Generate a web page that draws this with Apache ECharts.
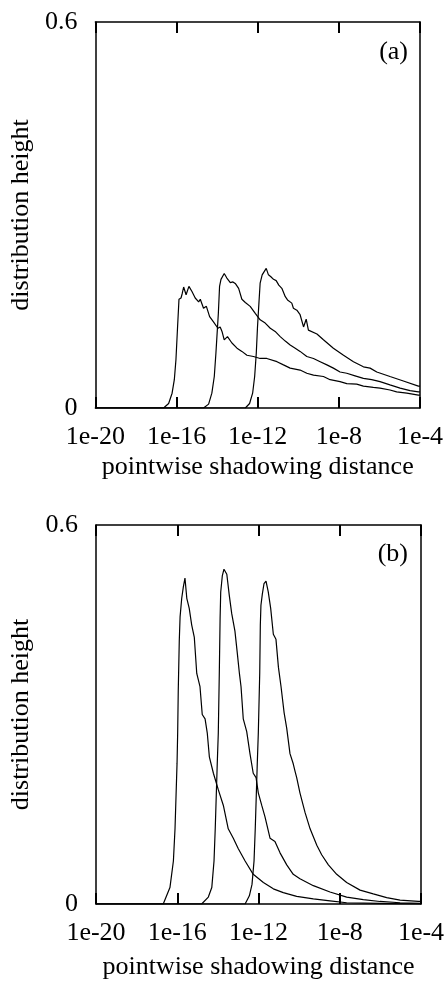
<!DOCTYPE html>
<html>
<head>
<meta charset="utf-8">
<script src="https://cdn.jsdelivr.net/npm/echarts@6/dist/echarts.min.js"></script>
<style>
  html, body { margin: 0; padding: 0; background: #fff; }
  #main { width: 448px; height: 981px; }
</style>
</head>
<body>
<div id="main"></div>
<script>
// x values are log10 of the distance, y is the distribution height
var xTicks = [-20, -16, -12, -8, -4];
var yTicks = [0, 0.6];

// panel (a)
var a1 = [[-20,0],[-16.64,0],[-16.39,0.007],[-16.22,0.023],[-16.11,0.044],[-16.03,0.075],[-15.95,0.126],[-15.88,0.169],
    [-15.78,0.171],[-15.72,0.178],[-15.65,0.188],[-15.53,0.176],[-15.39,0.189],[-15.24,0.181],[-15.08,0.171],[-14.91,0.165],
    [-14.83,0.169],[-14.67,0.155],[-14.53,0.158],[-14.37,0.142],[-14.18,0.134],[-13.96,0.124],[-13.85,0.126],[-13.76,0.119],
    [-13.65,0.106],[-13.49,0.111],[-13.27,0.101],[-13.02,0.093],[-12.78,0.088],[-12.53,0.082],[-12.21,0.080],[-11.88,0.077],
    [-11.55,0.077],[-11.05,0.072],[-10.73,0.067],[-10.40,0.062],[-9.91,0.059],[-9.58,0.054],[-9.25,0.051],[-8.76,0.049],
    [-8.43,0.044],[-7.94,0.041],[-7.61,0.038],[-7.12,0.037],[-6.79,0.034],[-6.30,0.032],[-5.97,0.031],[-5.48,0.028],
    [-5.15,0.025],[-4.65,0.023],[-4.08,0.020],[-4,0.020]];
var a2 = [[-20,0],[-14.67,0],[-14.42,0.006],[-14.26,0.023],[-14.14,0.049],[-14.06,0.085],[-14.01,0.111],[-13.94,0.147],
    [-13.88,0.189],[-13.81,0.200],[-13.65,0.209],[-13.52,0.202],[-13.35,0.195],[-13.22,0.196],[-13.09,0.193],[-12.94,0.186],
    [-12.78,0.169],[-12.61,0.164],[-12.37,0.158],[-12.12,0.147],[-11.88,0.137],[-11.63,0.132],[-11.38,0.124],[-11.14,0.119],
    [-10.89,0.111],[-10.64,0.104],[-10.40,0.098],[-10.15,0.093],[-9.91,0.088],[-9.82,0.091],[-9.58,0.080],[-9.25,0.077],
    [-8.92,0.072],[-8.59,0.067],[-8.27,0.062],[-7.94,0.056],[-7.61,0.054],[-7.20,0.050],[-6.79,0.046],[-6.38,0.044],
    [-5.97,0.041],[-5.48,0.036],[-4.98,0.031],[-4.49,0.027],[-4.08,0.025],[-4,0.025]];
var a3 = [[-20,0],[-12.61,0],[-12.40,0.007],[-12.25,0.023],[-12.15,0.049],[-12.07,0.085],[-12.01,0.126],[-11.94,0.163],
    [-11.88,0.194],[-11.78,0.207],[-11.68,0.212],[-11.58,0.217],[-11.47,0.207],[-11.35,0.204],[-11.22,0.200],[-11.09,0.198],
    [-10.96,0.191],[-10.81,0.186],[-10.64,0.173],[-10.53,0.168],[-10.32,0.163],[-10.24,0.155],[-10.07,0.152],[-9.91,0.145],
    [-9.74,0.126],[-9.61,0.138],[-9.50,0.121],[-9.08,0.115],[-8.76,0.106],[-8.27,0.093],[-7.77,0.082],[-7.28,0.072],
    [-6.79,0.064],[-6.46,0.062],[-6.13,0.056],[-5.48,0.049],[-4.82,0.042],[-4.08,0.034],[-4,0.034]];

// panel (b)
var b1 = [[-20,0],[-16.69,0],[-16.36,0.026],[-16.19,0.068],[-16.11,0.119],[-16.06,0.171],[-16.01,0.223],[-15.98,0.270],
    [-15.95,0.339],[-15.90,0.417],[-15.86,0.455],[-15.78,0.484],[-15.70,0.502],[-15.62,0.516],[-15.53,0.484],[-15.41,0.468],
    [-15.29,0.442],[-15.16,0.422],[-15.04,0.365],[-14.88,0.344],[-14.77,0.300],[-14.63,0.293],[-14.52,0.270],[-14.42,0.233],
    [-14.22,0.207],[-13.98,0.181],[-13.73,0.156],[-13.49,0.119],[-13.24,0.104],[-13.00,0.088],[-12.66,0.068],[-12.26,0.047],
    [-11.76,0.034],[-11.27,0.024],[-10.78,0.018],[-10.12,0.012],[-9.30,0.008],[-8.48,0.005],[-7.66,0.002],[-6.02,0.001],[-4,0]];
var b2 = [[-20,0],[-14.80,0],[-14.47,0.011],[-14.30,0.026],[-14.19,0.068],[-14.13,0.119],[-14.08,0.171],[-14.03,0.223],
    [-13.98,0.270],[-13.93,0.365],[-13.89,0.453],[-13.86,0.494],[-13.78,0.520],[-13.70,0.530],[-13.56,0.522],[-13.44,0.489],
    [-13.32,0.460],[-13.16,0.432],[-13.04,0.396],[-12.94,0.365],[-12.86,0.344],[-12.75,0.293],[-12.58,0.273],[-12.42,0.238],
    [-12.26,0.207],[-12.12,0.200],[-12.01,0.176],[-11.84,0.156],[-11.68,0.138],[-11.43,0.104],[-11.19,0.099],[-10.94,0.081],
    [-10.61,0.062],[-10.29,0.047],[-9.96,0.040],[-9.30,0.029],[-8.48,0.019],[-7.66,0.011],[-6.84,0.007],[-6.02,0.004],
    [-5.03,0.002],[-4,0.001]];
var b3 = [[-20,0],[-12.66,0],[-12.45,0.013],[-12.32,0.031],[-12.22,0.068],[-12.16,0.119],[-12.11,0.171],[-12.06,0.223],
    [-12.01,0.270],[-11.94,0.365],[-11.91,0.442],[-11.88,0.473],[-11.81,0.491],[-11.73,0.507],[-11.63,0.511],[-11.52,0.494],
    [-11.40,0.468],[-11.27,0.427],[-11.14,0.419],[-11.02,0.375],[-10.89,0.344],[-10.74,0.303],[-10.61,0.278],[-10.45,0.238],
    [-10.29,0.222],[-10.20,0.210],[-10.12,0.200],[-9.96,0.176],[-9.71,0.145],[-9.46,0.119],[-9.13,0.093],[-8.89,0.078],
    [-8.56,0.062],[-8.15,0.047],[-7.66,0.034],[-7.00,0.022],[-6.35,0.016],[-5.69,0.010],[-5.03,0.006],[-4.13,0.004],[-4,0.004]];

var FONT = 'Liberation Serif';
var myChart = echarts.init(document.getElementById('main'));

function xAxisFor(gi, top, gap) {
    return {
        gridIndex: gi,
        type: 'value',
        position: top ? 'top' : 'bottom',
        min: xTicks[0],
        max: xTicks[xTicks.length - 1],
        interval: 4,
        name: top ? '' : 'pointwise shadowing distance',
        nameLocation: 'middle',
        nameGap: gap,
        nameTextStyle: { color: '#000', fontFamily: FONT, fontSize: 26 },
        axisLine: { show: true, onZero: false, lineStyle: { color: '#000', width: 1.5 } },
        axisTick: { show: true, inside: true, length: 11, lineStyle: { color: '#000', width: 2 } },
        axisLabel: {
            show: !top,
            margin: 16,
            color: '#000',
            fontFamily: FONT,
            fontSize: 26,
            formatter: function (v) { return '1e' + v; }
        },
        splitLine: { show: false }
    };
}

function yAxisFor(gi, right) {
    return {
        gridIndex: gi,
        type: 'value',
        position: right ? 'right' : 'left',
        min: yTicks[0],
        max: yTicks[1],
        interval: 0.6,
        name: right ? '' : 'distribution height',
        nameLocation: 'middle',
        nameGap: 56,
        nameTextStyle: { color: '#000', fontFamily: FONT, fontSize: 26 },
        axisLine: { show: true, onZero: false, lineStyle: { color: '#000', width: 1.5 } },
        axisTick: { show: false },
        axisLabel: { show: !right, margin: 18, color: '#000', fontFamily: FONT, fontSize: 26 },
        splitLine: { show: false }
    };
}

function curve(data, gi) {
    return {
        type: 'line',
        xAxisIndex: gi * 2,
        yAxisIndex: gi * 2,
        data: data,
        showSymbol: false,
        lineStyle: { color: '#000', width: 1.2 }
    };
}

var option = {
    animation: false,
    backgroundColor: '#fff',
    grid: [
        { left: 95, top: 22, width: 325, height: 386 },
        { left: 96, top: 525, width: 325, height: 387 }
    ],
    xAxis: [xAxisFor(0, false, 46), xAxisFor(0, true), xAxisFor(1, false, 50), xAxisFor(1, true)],
    yAxis: [yAxisFor(0, false), yAxisFor(0, true), yAxisFor(1, false), yAxisFor(1, true)],
    graphic: [
        { type: 'text', right: 40, top: 39, style: { text: '(a)', fill: '#000', font: '26px "Liberation Serif"' } },
        { type: 'text', right: 40, top: 541, style: { text: '(b)', fill: '#000', font: '26px "Liberation Serif"' } }
    ],
    series: [
        curve(a1, 0), curve(a2, 0), curve(a3, 0),
        curve(b1, 1), curve(b2, 1), curve(b3, 1)
    ]
};

myChart.setOption(option);
</script>
</body>
</html>
